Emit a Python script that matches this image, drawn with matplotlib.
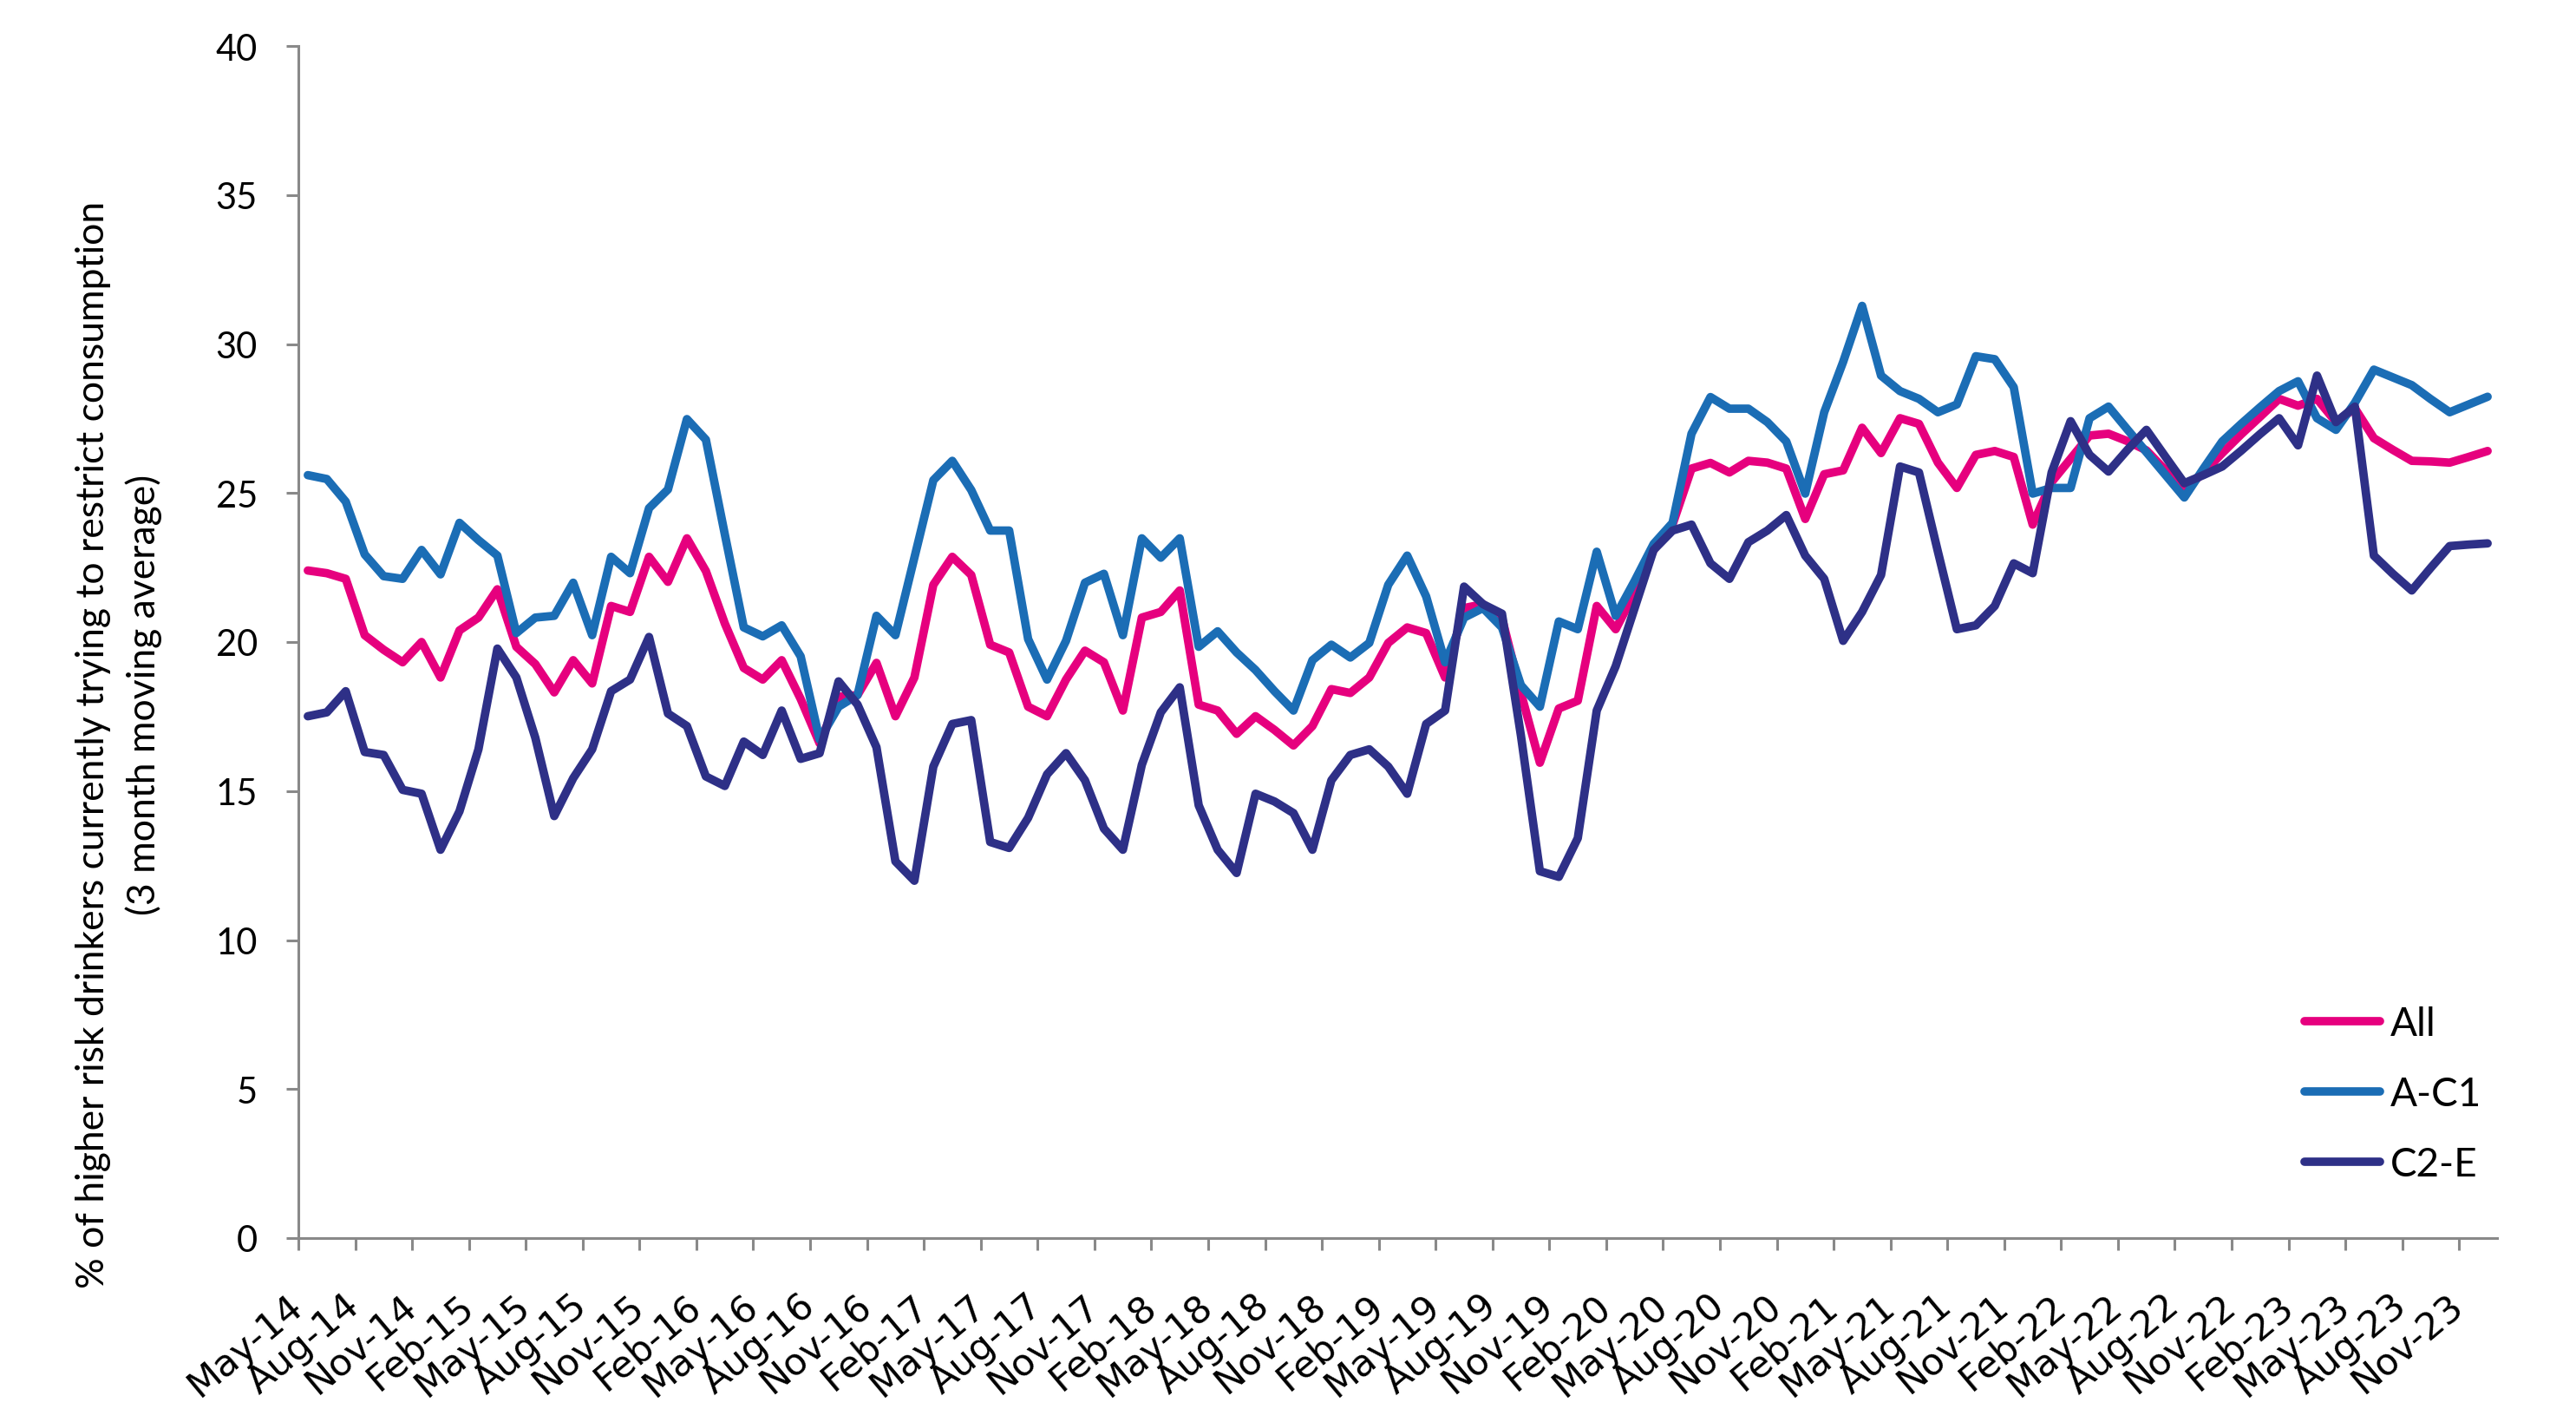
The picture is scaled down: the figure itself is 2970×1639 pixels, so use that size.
import matplotlib
matplotlib.use('Agg')
import matplotlib.pyplot as plt
import matplotlib.transforms as mtransforms
import numpy as np

# monthly points, May-14 .. Dec-23 (3 month moving average, %)
months = ['May-14', 'Aug-14', 'Nov-14', 'Feb-15', 'May-15', 'Aug-15', 'Nov-15',
          'Feb-16', 'May-16', 'Aug-16', 'Nov-16', 'Feb-17', 'May-17', 'Aug-17',
          'Nov-17', 'Feb-18', 'May-18', 'Aug-18', 'Nov-18', 'Feb-19', 'May-19',
          'Aug-19', 'Nov-19', 'Feb-20', 'May-20', 'Aug-20', 'Nov-20', 'Feb-21',
          'May-21', 'Aug-21', 'Nov-21', 'Feb-22', 'May-22', 'Aug-22', 'Nov-22',
          'Feb-23', 'May-23', 'Aug-23', 'Nov-23']

all_drinkers = [22.40, 22.31, 22.12, 20.23, 19.74, 19.32, 20.00, 18.81, 20.39, 20.82,
                21.77, 19.84, 19.26, 18.31, 19.39, 18.61, 21.21, 21.01, 22.86, 22.02,
                23.48, 22.38, 20.62, 19.13, 18.74, 19.39, 18.09, 16.60, 18.16, 18.22,
                19.30, 17.51, 18.81, 21.92, 22.86, 22.25, 19.91, 19.65, 17.83, 17.51,
                18.74, 19.71, 19.32, 17.70, 20.82, 21.01, 21.73, 17.90, 17.70, 16.92,
                17.51, 17.05, 16.53, 17.18, 18.42, 18.29, 18.81, 19.97, 20.49, 20.30,
                18.81, 21.14, 21.27, 20.80, 18.29, 15.95, 17.77, 18.03, 21.21, 20.43,
                21.66, 23.09, 23.94, 25.82, 26.01, 25.69, 26.08, 26.02, 25.82, 24.13,
                25.63, 25.76, 27.19, 26.34, 27.51, 27.32, 26.02, 25.17, 26.28, 26.41,
                26.21, 23.94, 25.37, 26.15, 26.93, 26.99, 26.74, 26.43, 25.77, 25.11,
                25.67, 26.34, 26.97, 27.56, 28.16, 27.93, 28.16, 27.38, 27.84, 26.84,
                26.45, 26.08, 26.06, 26.02, 26.21, 26.41]

a_c1 = [25.60, 25.47, 24.71, 22.94, 22.21, 22.12, 23.09, 22.27, 24.00, 23.42,
        22.90, 20.30, 20.82, 20.88, 21.99, 20.23, 22.86, 22.31, 24.49, 25.12,
        27.48, 26.79, 23.61, 20.49, 20.19, 20.56, 19.52, 16.73, 17.83, 18.22,
        20.88, 20.23, 22.83, 25.43, 26.08, 25.10, 23.74, 23.74, 20.10, 18.74,
        20.04, 21.99, 22.29, 20.23, 23.48, 22.83, 23.48, 19.84, 20.36, 19.65,
        19.06, 18.35, 17.70, 19.39, 19.91, 19.48, 19.97, 21.92, 22.90, 21.53,
        19.32, 20.82, 21.14, 20.49, 18.55, 17.83, 20.69, 20.43, 23.03, 20.88,
        22.05, 23.29, 24.00, 26.99, 28.22, 27.83, 27.83, 27.38, 26.73, 24.98,
        27.71, 29.40, 31.28, 28.94, 28.42, 28.16, 27.71, 27.97, 29.59, 29.49,
        28.55, 24.98, 25.17, 25.17, 27.51, 27.90, 27.13, 26.37, 25.61, 24.85,
        25.81, 26.73, 27.32, 27.88, 28.42, 28.75, 27.51, 27.12, 28.03, 29.14,
        28.88, 28.62, 28.15, 27.71, 27.97, 28.23]

c2_e = [17.51, 17.64, 18.35, 16.31, 16.21, 15.04, 14.91, 13.03, 14.32, 16.40,
        19.78, 18.81, 16.79, 14.16, 15.43, 16.40, 18.35, 18.74, 20.17, 17.60,
        17.18, 15.49, 15.17, 16.66, 16.21, 17.70, 16.08, 16.27, 18.68, 17.90,
        16.47, 12.64, 11.99, 15.82, 17.25, 17.38, 13.29, 13.09, 14.10, 15.56,
        16.27, 15.36, 13.74, 13.03, 15.88, 17.64, 18.48, 14.52, 13.03, 12.25,
        14.91, 14.65, 14.26, 13.03, 15.36, 16.21, 16.40, 15.82, 14.91, 17.25,
        17.70, 21.86, 21.27, 20.95, 16.86, 12.31, 12.12, 13.42, 17.70, 19.19,
        21.14, 23.09, 23.74, 23.94, 22.64, 22.12, 23.35, 23.74, 24.26, 22.90,
        22.12, 20.04, 21.01, 22.25, 25.89, 25.69, 23.03, 20.43, 20.56, 21.21,
        22.64, 22.31, 25.69, 27.41, 26.28, 25.72, 26.45, 27.12, 26.22, 25.33,
        25.60, 25.89, 26.42, 26.98, 27.51, 26.60, 28.94, 27.38, 27.90, 22.90,
        22.29, 21.73, 22.49, 23.22, 23.27, 23.31]

PINK = '#E6007E'
BLUE = '#1B6DB5'
NAVY = '#2E3087'
GREY = '#898989'

W, H = 2970, 1640
fig = plt.figure(figsize=(W / 100, H / 100), dpi=100)
ax = fig.add_axes([344 / W, 212 / H, (2879 - 344) / W, (1428 - 54) / H])

x = np.arange(len(all_drinkers))
kw = dict(lw=7, solid_capstyle='round', solid_joinstyle='round')
ax.plot(x, all_drinkers, color=PINK, label='All', **kw)
ax.plot(x, a_c1, color=BLUE, label='A-C1', **kw)
ax.plot(x, c2_e, color=NAVY, label='C2-E', **kw)

ax.set_xlim(-0.5, len(x) - 0.5)
ax.set_ylim(0, 40)
ax.set_yticks(np.arange(0, 41, 5))
ax.set_yticklabels([str(v) for v in range(0, 41, 5)], fontfamily='Lato', fontsize=30)

ax.set_xticks(np.arange(-0.5, len(x) - 1, 3))
ax.set_xticklabels(months, rotation=40, ha='right', va='center',
                   rotation_mode='anchor', fontfamily='DejaVu Sans', fontsize=31)
offset = mtransforms.ScaledTranslation(21 / 100, 0, fig.dpi_scale_trans)
for lbl in ax.get_xticklabels():
    lbl.set_transform(lbl.get_transform() + offset)

for s in ['top', 'right']:
    ax.spines[s].set_visible(False)
for s in ['left', 'bottom']:
    ax.spines[s].set_color(GREY)
    ax.spines[s].set_linewidth(2.2)
ax.tick_params(axis='both', colors=GREY, length=10, width=2.2, labelcolor='black')
ax.tick_params(axis='y', pad=24)
ax.tick_params(axis='x', pad=42)

fig.text(108 / W, 1 - 858 / H,
         '% of higher risk drinkers currently trying to restrict consumption',
         rotation=90, ha='center', va='center', fontfamily='Lato', fontsize=32)
fig.text(166 / W, 1 - 801 / H, '(3 month moving average)',
         rotation=90, ha='center', va='center', fontfamily='Lato', fontsize=32)

leg = ax.legend(loc='center left', bbox_to_anchor=(2657 / W, 1 - 1262 / H),
                bbox_transform=fig.transFigure, frameon=False, borderpad=0,
                borderaxespad=0, handlelength=1.9, handletextpad=0.25,
                labelspacing=0.85, prop={'family': 'Lato', 'size': 33})

fig.savefig('out.png', dpi=100)
